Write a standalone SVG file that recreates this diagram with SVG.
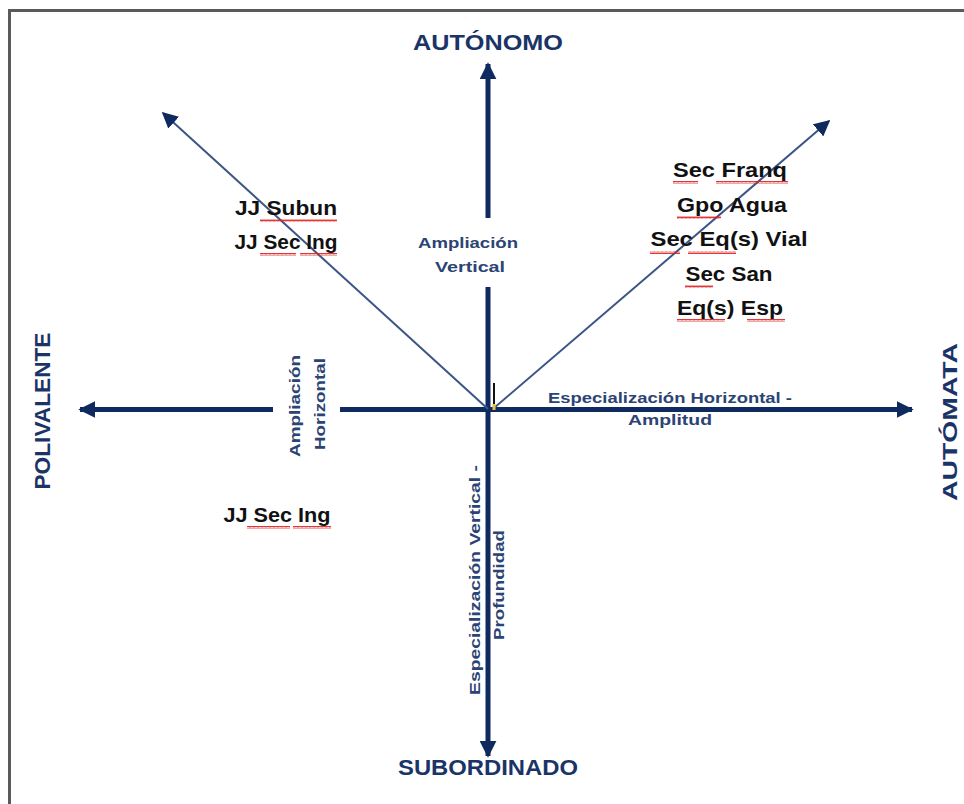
<svg xmlns="http://www.w3.org/2000/svg" width="964" height="804" viewBox="0 0 964 804">
<defs>
<style>
.ax{stroke:#0f2a5e;stroke-width:5;fill:none}
.dg{stroke:#3b5586;stroke-width:2;fill:none}
.pole{font-family:"Liberation Sans",Arial,sans-serif;font-weight:bold;font-size:22px;fill:#1b3468}
.lab{font-family:"Liberation Sans",Arial,sans-serif;font-weight:bold;font-size:15px;fill:#2b4474}
.unit{font-family:"Liberation Sans",Arial,sans-serif;font-weight:bold;font-size:21px;fill:#111}
.wv{fill:url(#wavy)}
</style>
<marker id="ah" viewBox="0 0 10 10" refX="9" refY="5" markerWidth="3.4" markerHeight="3.4" orient="auto" markerUnits="strokeWidth">
<path d="M0,0 L10,5 L0,10 z" fill="#0f2a5e"/>
</marker>
<marker id="ahd" viewBox="0 0 10 10" refX="9" refY="5" markerWidth="8" markerHeight="8" orient="auto" markerUnits="strokeWidth">
<path d="M0,0 L10,5 L0,10 z" fill="#0f2a5e"/>
</marker>
<pattern id="wavy" width="4" height="3" patternUnits="userSpaceOnUse">
<polyline points="0,2.5 1,0.5 2,2.5 3,0.5 4,2.5" fill="none" stroke="#e02020" stroke-width="0.9"/>
</pattern>
</defs>
<rect width="964" height="804" fill="#fff"/>
<path d="M9.5,804 V10.5 H964" fill="none" stroke="#5a5a5a" stroke-width="3"/>

<g id="connectors">
<line class="ax" x1="488" y1="409.5" x2="488" y2="287"/>
<line class="ax" x1="488" y1="218" x2="488" y2="64" marker-end="url(#ah)"/>
<line class="ax" x1="488" y1="409.5" x2="488" y2="756" marker-end="url(#ah)"/>
<line class="ax" x1="488" y1="409.5" x2="340" y2="409.5"/>
<line class="ax" x1="273" y1="409.5" x2="80" y2="409.5" marker-end="url(#ah)"/>
<line class="ax" x1="488" y1="409.5" x2="912" y2="409.5" marker-end="url(#ah)"/>
<line class="dg" x1="488" y1="409" x2="163" y2="113" marker-end="url(#ahd)"/>
<line class="dg" x1="494" y1="408" x2="829" y2="121" marker-end="url(#ahd)"/>
<rect x="493" y="383" width="2" height="22" fill="#111"/>
<rect x="492.5" y="404" width="3" height="6" fill="#e8c040"/>
</g>

<g id="autonomo"><text class="pole" x="488" y="50" text-anchor="middle" textLength="150" lengthAdjust="spacingAndGlyphs">AUTÓNOMO</text></g>
<g id="subordinado"><text class="pole" x="488" y="775" text-anchor="middle" textLength="180" lengthAdjust="spacingAndGlyphs">SUBORDINADO</text></g>
<g id="polivalente"><text class="pole" transform="translate(50,411) rotate(-90)" text-anchor="middle" textLength="157" lengthAdjust="spacingAndGlyphs">POLIVALENTE</text></g>
<g id="automata"><text class="pole" style="font-size:21px" transform="translate(957,422) rotate(-90)" text-anchor="middle" textLength="158" lengthAdjust="spacingAndGlyphs">AUTÓMATA</text></g>

<g id="ampliacion-vertical">
<text class="lab" x="468" y="248" text-anchor="middle" textLength="100" lengthAdjust="spacingAndGlyphs">Ampliación</text>
<text class="lab" x="470" y="272" text-anchor="middle" textLength="70" lengthAdjust="spacingAndGlyphs">Vertical</text>
</g>
<g id="ampliacion-horizontal">
<text class="lab" transform="translate(300,406) rotate(-90)" text-anchor="middle" textLength="102" lengthAdjust="spacingAndGlyphs">Ampliación</text>
<text class="lab" transform="translate(325,404) rotate(-90)" text-anchor="middle" textLength="92" lengthAdjust="spacingAndGlyphs">Horizontal</text>
</g>
<g id="especializacion-horizontal">
<text class="lab" x="670" y="403" text-anchor="middle" textLength="244" lengthAdjust="spacingAndGlyphs">Especialización Horizontal -</text>
<text class="lab" x="670" y="425" text-anchor="middle" textLength="84" lengthAdjust="spacingAndGlyphs">Amplitud</text>
</g>
<g id="especializacion-vertical">
<text class="lab" transform="translate(480,580) rotate(-90)" text-anchor="middle" textLength="230" lengthAdjust="spacingAndGlyphs">Especialización Vertical -</text>
<text class="lab" transform="translate(504,585) rotate(-90)" text-anchor="middle" textLength="110" lengthAdjust="spacingAndGlyphs">Profundidad</text>
</g>

<g id="grupo-izq-sup">
<text class="unit" x="286" y="215" text-anchor="middle" textLength="102" lengthAdjust="spacingAndGlyphs">JJ Subun</text>
<text class="unit" x="286" y="249" text-anchor="middle" textLength="103" lengthAdjust="spacingAndGlyphs">JJ Sec Ing</text>
<rect class="wv" x="260" y="219" width="77" height="3"/>
<rect class="wv" x="260" y="253" width="36" height="3"/>
<rect class="wv" x="300" y="253" width="37" height="3"/>
</g>

<g id="grupo-der-sup">
<text class="unit" x="730" y="177" text-anchor="middle" textLength="114" lengthAdjust="spacingAndGlyphs">Sec Franq</text>
<text class="unit" x="732" y="212" text-anchor="middle" textLength="110" lengthAdjust="spacingAndGlyphs">Gpo Agua</text>
<text class="unit" x="729" y="246" text-anchor="middle" textLength="157" lengthAdjust="spacingAndGlyphs">Sec Eq(s) Vial</text>
<text class="unit" x="729" y="281" text-anchor="middle" textLength="87" lengthAdjust="spacingAndGlyphs">Sec San</text>
<text class="unit" x="730" y="315" text-anchor="middle" textLength="106" lengthAdjust="spacingAndGlyphs">Eq(s) Esp</text>
<rect class="wv" x="673" y="181" width="25" height="3"/>
<rect class="wv" x="716" y="181" width="72" height="3"/>
<rect class="wv" x="677" y="216" width="44" height="3"/>
<rect class="wv" x="650" y="251" width="30" height="3"/>
<rect class="wv" x="688" y="251" width="48" height="3"/>
<rect class="wv" x="685" y="285" width="28" height="3"/>
<rect class="wv" x="677" y="319" width="48" height="3"/>
<rect class="wv" x="747" y="319" width="38" height="3"/>
</g>

<g id="grupo-izq-inf">
<text class="unit" x="277" y="522" text-anchor="middle" textLength="107" lengthAdjust="spacingAndGlyphs">JJ Sec Ing</text>
<rect class="wv" x="247" y="526" width="43" height="3"/>
<rect class="wv" x="293" y="526" width="38" height="3"/>
</g>
</svg>
